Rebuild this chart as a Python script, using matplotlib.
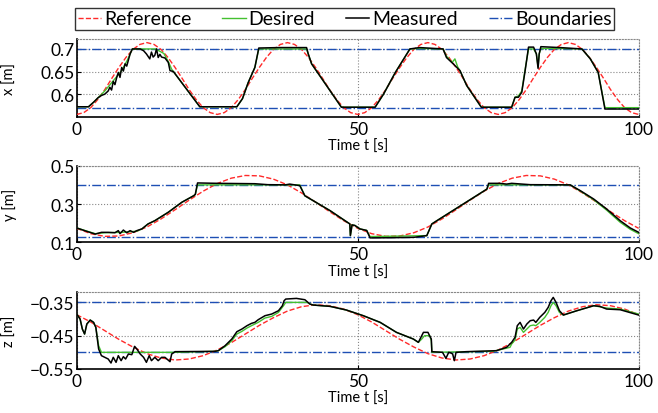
import numpy as np
import matplotlib
matplotlib.use("Agg")
import matplotlib.pyplot as plt

plt.rcParams['font.family'] = ['Lato', 'DejaVu Sans']

# ---- x position ----
t_ref_x = [0, 1.25, 2.5, 3.75, 5, 6.25, 7.5, 8.75, 10, 11.25, 12.5, 13.75, 15, 16.25, 17.5, 18.75, 20, 21.25, 22.5, 23.75,
           25, 26.25, 27.5, 28.75, 30, 31.25, 32.5, 33.75, 35, 36.25, 37.5, 38.75, 40, 41.25, 42.5, 43.75, 45, 46.25, 47.5, 48.75,
           50, 51.25, 52.5, 53.75, 55, 56.25, 57.5, 58.75, 60, 61.25, 62.5, 63.75, 65, 66.25, 67.5, 68.75, 70, 71.25, 72.5, 73.75,
           75, 76.25, 77.5, 78.75, 80, 81.25, 82.5, 83.75, 85, 86.25, 87.5, 88.75, 90, 91.25, 92.5, 93.75, 95, 96.25, 97.5, 98.75, 100]
x_ref = [0.555, 0.559, 0.570, 0.588, 0.610, 0.635, 0.659, 0.681, 0.699, 0.710, 0.714, 0.710, 0.699, 0.681, 0.659, 0.635, 0.610, 0.588, 0.570, 0.559,
         0.555, 0.559, 0.570, 0.588, 0.610, 0.635, 0.659, 0.681, 0.699, 0.710, 0.714, 0.710, 0.699, 0.681, 0.659, 0.635, 0.610, 0.588, 0.570, 0.559,
         0.555, 0.559, 0.570, 0.588, 0.610, 0.635, 0.659, 0.681, 0.699, 0.710, 0.714, 0.710, 0.699, 0.681, 0.659, 0.635, 0.610, 0.588, 0.570, 0.559,
         0.555, 0.559, 0.570, 0.588, 0.610, 0.635, 0.659, 0.681, 0.699, 0.710, 0.714, 0.710, 0.699, 0.681, 0.659, 0.635, 0.610, 0.588, 0.570, 0.559,
         0.555]

t_meas_x = [0, 2.1, 3.0, 3.8, 4.4, 5.0, 5.6, 5.9, 6.2, 6.5, 6.8, 7.1, 7.4, 7.7, 8.0, 8.3, 8.6, 8.9, 9.5, 9.9,
            11.3, 11.9, 12.4, 13.0, 13.3, 13.6, 13.9, 14.2, 14.5, 14.8, 15.1, 15.7, 16.3, 16.6, 17.2, 21.9,
            28.5, 29.5, 30.5, 31.7, 32.4, 36.0, 40.9, 41.2, 41.8, 47.1, 53.1, 54.6, 56.7, 59.3, 61.0, 65.2,
            65.8, 67.0, 68.2, 69.4, 72.0, 77.4, 78.0, 78.6, 79.2, 79.8, 80.4, 81.3, 81.8, 82.1, 82.3, 82.6,
            86.0, 89.9, 91.4, 92.8, 94.0, 100]
x_meas = [0.572, 0.572, 0.582, 0.592, 0.597, 0.600, 0.607, 0.615, 0.609, 0.628, 0.621, 0.636, 0.648, 0.637, 0.659, 0.651, 0.667, 0.662, 0.689, 0.700,
          0.700, 0.696, 0.689, 0.678, 0.693, 0.682, 0.686, 0.700, 0.681, 0.688, 0.682, 0.680, 0.670, 0.652, 0.650, 0.572,
          0.572, 0.590, 0.625, 0.659, 0.702, 0.703, 0.703, 0.689, 0.667, 0.571, 0.571, 0.600, 0.648, 0.700, 0.703, 0.700,
          0.681, 0.667, 0.652, 0.619, 0.571, 0.571, 0.593, 0.593, 0.604, 0.652, 0.704, 0.704, 0.689, 0.657, 0.689, 0.705,
          0.703, 0.700, 0.678, 0.648, 0.567, 0.567]

t_des_x = [0, 2.1, 3.0, 3.8, 5.0, 6.0, 7.0, 8.0, 9.0, 9.9, 14.0, 15.5, 16.3, 16.9, 17.2, 21.9,
           28.5, 29.5, 30.5, 31.7, 32.4, 36.0, 40.9, 41.2, 41.8, 47.1, 53.1, 54.6, 56.7, 59.3, 61.0, 65.2,
           65.8, 66.8, 67.3, 67.8, 68.2, 69.4, 72.0, 77.4, 78.0, 78.6, 79.2, 79.8, 80.4, 81.3, 81.8, 82.1, 82.3, 82.6,
           86.0, 89.9, 91.4, 92.8, 94.0, 100]
x_des = [0.572, 0.572, 0.582, 0.592, 0.607, 0.622, 0.637, 0.652, 0.675, 0.700, 0.700, 0.690, 0.672, 0.655, 0.650, 0.572,
         0.572, 0.590, 0.625, 0.659, 0.700, 0.700, 0.700, 0.689, 0.667, 0.571, 0.571, 0.600, 0.648, 0.700, 0.701, 0.700,
         0.684, 0.670, 0.678, 0.660, 0.652, 0.619, 0.571, 0.571, 0.593, 0.596, 0.607, 0.655, 0.700, 0.700, 0.689, 0.660, 0.689, 0.701,
         0.701, 0.700, 0.678, 0.648, 0.570, 0.570]
x_bounds = [0.57, 0.70]

# ---- y position ----
t_ref_y = [0, 2.5, 5, 7.5, 10, 12.5, 15, 17.5, 20, 22.5, 25, 27.5, 30, 32.5, 35, 37.5, 40, 42.5, 45, 47.5,
           50, 52.5, 55, 57.5, 60, 62.5, 65, 67.5, 70, 72.5, 75, 77.5, 80, 82.5, 85, 87.5, 90, 92.5, 95, 97.5, 100]
y_ref = [0.173, 0.145, 0.131, 0.133, 0.150, 0.180, 0.222, 0.270, 0.320, 0.367, 0.407, 0.435, 0.449, 0.447, 0.430, 0.400, 0.358, 0.310, 0.260, 0.213,
         0.173, 0.145, 0.131, 0.133, 0.150, 0.180, 0.222, 0.270, 0.320, 0.367, 0.407, 0.435, 0.449, 0.447, 0.430, 0.400, 0.358, 0.310, 0.260, 0.213,
         0.173]

t_meas_y = [0, 1.5, 3.3, 4.4, 5.6, 6.8, 7.4, 7.7, 8.3, 8.9, 9.5, 10.1, 10.7, 11.6, 12.7, 13.9, 16.3, 18.7, 20.8, 21.1, 21.5,
            25, 31.7, 34, 37.1, 37.9, 39.7, 40.6, 45.1, 48.6, 48.7, 49.0, 49.5, 50.4, 51.6, 52.2, 56, 60, 62.3, 63.2, 64.1,
            73.0, 73.3, 75.3, 76.5, 77.4, 80.7, 87.8, 89.6, 92, 94.3, 96.7, 98.5, 100]
y_meas = [0.175, 0.160, 0.143, 0.152, 0.152, 0.150, 0.161, 0.145, 0.164, 0.150, 0.161, 0.152, 0.161, 0.170, 0.196, 0.213, 0.257, 0.309, 0.343, 0.350, 0.410,
          0.408, 0.406, 0.401, 0.400, 0.404, 0.396, 0.343, 0.265, 0.196, 0.135, 0.191, 0.188, 0.170, 0.162, 0.123, 0.124, 0.126, 0.135, 0.196, 0.213,
          0.378, 0.408, 0.408, 0.404, 0.408, 0.401, 0.400, 0.370, 0.326, 0.274, 0.213, 0.175, 0.152]

t_des_y = [0, 3.3, 5, 8, 10.7, 11.6, 12.7, 13.9, 16.3, 18.7, 20.8, 21.1, 21.5, 39.7, 40.6, 45.1, 48.6, 48.7, 49.0, 49.5,
           50.4, 51.6, 52.2, 62.3, 63.2, 64.1, 73.0, 73.3, 87.8, 89.6, 92, 94.3, 96.7, 98.5, 100]
y_des = [0.175, 0.145, 0.150, 0.152, 0.158, 0.170, 0.196, 0.213, 0.257, 0.309, 0.343, 0.350, 0.400, 0.400, 0.343, 0.265, 0.196, 0.135, 0.191, 0.188,
         0.170, 0.162, 0.130, 0.135, 0.196, 0.213, 0.378, 0.400, 0.400, 0.368, 0.322, 0.268, 0.205, 0.168, 0.145]
y_bounds = [0.13, 0.40]

# ---- z position ----
t_ref_z = t_ref_y
z_ref = [-0.387, -0.409, -0.435, -0.461, -0.484, -0.504, -0.517, -0.523, -0.520, -0.510, -0.493, -0.471, -0.445, -0.419, -0.396, -0.376, -0.363, -0.357, -0.360, -0.370,
         -0.387, -0.409, -0.435, -0.461, -0.484, -0.504, -0.517, -0.523, -0.520, -0.510, -0.493, -0.471, -0.445, -0.419, -0.396, -0.376, -0.363, -0.357, -0.360, -0.370,
         -0.387]

t_meas_z = [0, 0.6, 1.0, 1.4, 1.8, 2.4, 3.0, 3.4, 3.9, 4.4, 5.0, 5.6, 6.1, 6.5, 7.0, 7.4, 7.9, 8.3, 8.7, 9.2, 9.8,
            10.3, 10.7, 11.3, 11.9, 12.4, 12.9, 13.3, 13.9, 14.5, 15.1, 15.7, 16.6, 16.9, 17.5, 24.6, 25.2, 26.4, 27.6,
            28.5, 29.4, 30.3, 31.1, 31.7, 32.3, 33.5, 34.7, 35.9, 36.6, 36.9, 37.2, 39.1, 40.6, 41.5, 42.1, 45.1, 48,
            51, 54, 56.9, 59.9, 60.8, 61.4, 61.7, 62.5, 63.1, 63.2, 65.1, 65.7, 66.2, 66.6, 66.9, 67.2, 67.5, 69.3,
            72.9, 74.7, 76.5, 77.4, 78.0, 78.4, 78.9, 79.5, 80.1, 80.7, 81.3, 81.7, 82.4, 83.3, 83.9, 84.4, 84.8,
            85.3, 85.9, 86.6, 89, 92, 93.1, 94.3, 96.7, 100]
z_meas = [-0.385, -0.400, -0.430, -0.445, -0.415, -0.403, -0.410, -0.425, -0.490, -0.510, -0.515, -0.520, -0.532, -0.515, -0.530, -0.510, -0.525, -0.513, -0.520, -0.505, -0.507,
          -0.482, -0.490, -0.505, -0.515, -0.530, -0.510, -0.525, -0.515, -0.525, -0.515, -0.515, -0.528, -0.505, -0.498, -0.497, -0.495, -0.480, -0.460,
          -0.438, -0.430, -0.420, -0.413, -0.410, -0.402, -0.390, -0.385, -0.375, -0.360, -0.345, -0.340, -0.338, -0.342, -0.355, -0.358, -0.362, -0.373,
          -0.390, -0.410, -0.440, -0.460, -0.470, -0.450, -0.440, -0.440, -0.460, -0.498, -0.500, -0.518, -0.500, -0.502, -0.505, -0.525, -0.500, -0.498,
          -0.496, -0.495, -0.485, -0.470, -0.455, -0.420, -0.410, -0.430, -0.415, -0.405, -0.403, -0.410, -0.395, -0.380, -0.365, -0.345, -0.335,
          -0.350, -0.375, -0.388, -0.375, -0.360, -0.362, -0.370, -0.372, -0.388]

t_des_z = [0, 0.6, 1.0, 1.4, 1.8, 2.4, 3.0, 3.4, 3.9, 4.4, 17.5, 24.6, 25.2, 26.4, 27.6, 28.5, 29.4, 30.3, 31.1, 32.3,
           33.5, 34.7, 35.9, 36.8, 37.2, 41.0, 41.5, 42.1, 45.1, 48, 51, 54, 56.9, 59.9, 60.8, 61.4, 61.9, 62.8, 63.1, 63.2,
           74.1, 77.1, 77.4, 78.0, 78.4, 78.9, 79.5, 80.1, 80.7, 81.3, 81.7, 82.4, 83.3, 83.9, 84.4, 84.8, 85.3, 85.9, 86.6,
           89, 92, 94.3, 96.7, 100]
z_des = [-0.385, -0.400, -0.430, -0.445, -0.415, -0.403, -0.410, -0.425, -0.480, -0.500, -0.500, -0.497, -0.495, -0.483, -0.465, -0.445, -0.437, -0.427, -0.420, -0.410,
         -0.397, -0.392, -0.380, -0.360, -0.350, -0.350, -0.355, -0.358, -0.362, -0.373, -0.390, -0.410, -0.440, -0.460, -0.470, -0.460, -0.450, -0.450, -0.465, -0.500,
         -0.497, -0.485, -0.475, -0.463, -0.430, -0.425, -0.440, -0.430, -0.420, -0.418, -0.420, -0.410, -0.395, -0.380, -0.360, -0.350, -0.360, -0.380, -0.388,
         -0.375, -0.360, -0.367, -0.370, -0.385]
z_bounds = [-0.50, -0.35]

x_ticks = [0, 50, 100]
panels = [
    ("x [m]", t_ref_x, x_ref, t_des_x, x_des, t_meas_x, x_meas, x_bounds, (0.55, 0.722),
     [0.6, 0.65, 0.7], ["0.6", "0.65", "0.7"]),
    ("y [m]", t_ref_y, y_ref, t_des_y, y_des, t_meas_y, y_meas, y_bounds, (0.1, 0.5),
     [0.1, 0.3, 0.5], ["0.1", "0.3", "0.5"]),
    ("z [m]", t_ref_z, z_ref, t_des_z, z_des, t_meas_z, z_meas, z_bounds, (-0.55, -0.32),
     [-0.55, -0.45, -0.35], ["\u22120.55", "\u22120.45", "\u22120.35"]),
]

red = '#ff2a2a'
green = '#44c030'
blue = '#1e4fb4'

fig = plt.figure(figsize=(6.58, 4.14), dpi=100)
# axes rectangles in figure fractions
rects = [[0.1166, 0.7157, 0.854, 0.1877],
         [0.1166, 0.4123, 0.854, 0.185],
         [0.1166, 0.1063, 0.854, 0.185]]

for rect, p in zip(rects, panels):
    ylab, tr, vr, td, vd, tm, vm, bnd, ylim, yt, ytl = p
    ax = fig.add_axes(rect)
    for b in bnd:
        ax.axhline(b, color=blue, ls='-.', lw=1.0, zorder=2)
    ax.plot(tr, vr, color=red, ls='--', lw=1.0, zorder=3)
    ax.plot(td, vd, color=green, lw=1.0, zorder=4)
    ax.plot(tm, vm, color='black', lw=1.1, zorder=5)
    ax.set_xlim(0, 100)
    ax.set_ylim(*ylim)
    ax.set_xticks(x_ticks)
    ax.set_xticklabels([str(v) for v in x_ticks])
    ax.set_yticks(yt)
    ax.set_yticklabels(ytl)
    ax.tick_params(direction='in', length=3, labelsize=12.5, width=0.8)
    ax.tick_params(axis='x', pad=3)
    ax.tick_params(axis='y', pad=1.5)
    # lift the y tick labels a little so the lowest one clears the "0" below it
    for lab in ax.get_yticklabels():
        lab.set_verticalalignment('center_baseline')
    ax.grid(True, ls=':', color='#888888', lw=0.8)
    for s in ['top', 'right']:
        ax.spines[s].set_linestyle(':')
        ax.spines[s].set_color('#888888')
        ax.spines[s].set_linewidth(0.8)
    for s in ['left', 'bottom']:
        ax.spines[s].set_linewidth(1.2)
    ax.set_xlabel("Time t [s]", fontsize=10.5)
    ax.xaxis.set_label_coords(0.5, -0.29)
    ax.set_ylabel(ylab, fontsize=10.5)
    ax.yaxis.set_label_coords(-0.106, 0.5)

handles = [plt.Line2D([], [], color=red, ls='--', lw=1.0),
           plt.Line2D([], [], color=green, lw=1.0),
           plt.Line2D([], [], color='black', lw=1.1),
           plt.Line2D([], [], color=blue, ls='-.', lw=1.0)]
leg = fig.legend(handles, ["Reference", "Desired", "Measured", "Boundaries"],
                 loc='upper center', bbox_to_anchor=(0.524, 0.978), ncol=4,
                 fontsize=14, frameon=True, fancybox=False, handlelength=1.2,
                 handletextpad=0.15, columnspacing=1.6, borderpad=0.12,
                 borderaxespad=0.0)
leg.get_frame().set_edgecolor('black')
leg.get_frame().set_linewidth(1.0)

fig.savefig("out.png", dpi=100)
